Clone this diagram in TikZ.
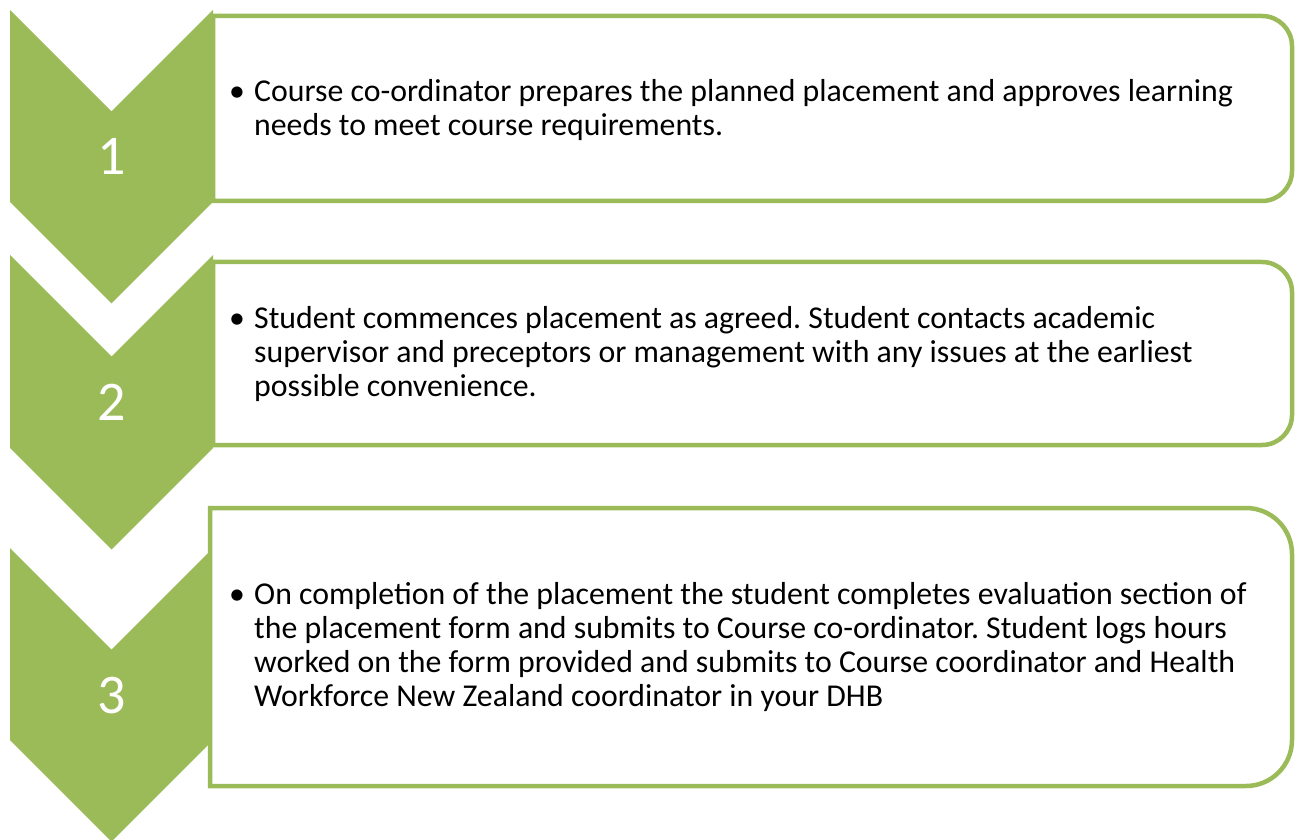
\documentclass[tikz,border=0pt]{standalone}
\usepackage{fontspec}
\setmainfont{Carlito}
\frenchspacing
\definecolor{chevgreen}{HTML}{9BBB59}
\tikzset{
  chevron/.style={fill=chevgreen, draw=none},
  stepbox/.style={draw=chevgreen, line width=4.5pt, fill=white},
  numlabel/.style={text=white, font=\fontsize{56}{60}\selectfont, inner sep=0pt},
  steptext/.style={anchor=west, inner sep=0pt, align=left, font=\fontsize{31.8}{34}\selectfont},
}
\begin{document}
\begin{tikzpicture}[x=1pt,y=1pt]
\useasboundingbox (0,0) rectangle (1295,839);
% chevrons
\path[chevron] (10,829) -- (111.5,727.5) -- (213,829) -- (213,637) -- (111.5,535.5) -- (10,637) -- cycle;
\path[chevron] (10,584) -- (111.5,482.5) -- (213,584) -- (213,391) -- (111.5,289.5) -- (10,391) -- cycle;
\path[chevron] (10,291) -- (111.5,189.5) -- (213,291) -- (213,99) -- (111.5,-2.5) -- (10,99) -- cycle;
% boxes
\draw[stepbox] (213,823) -- (1262,823) arc[start angle=90,end angle=0,radius=30] -- (1292,668) arc[start angle=0,end angle=-90,radius=30] -- (213,638) -- cycle;
\draw[stepbox] (213,577) -- (1262,577) arc[start angle=90,end angle=0,radius=30] -- (1292,424) arc[start angle=0,end angle=-90,radius=30] -- (213,394) -- cycle;
\draw[stepbox] (210,331) -- (1246,331) arc[start angle=90,end angle=0,radius=46] -- (1292,99) arc[start angle=0,end angle=-90,radius=46] -- (210,53) -- cycle;
% numbers
\node[numlabel] (n1) at (111.5,683) {1};
\node[numlabel] (n2) at (111.5,437) {2};
\node[numlabel] (n3) at (111.5,143) {3};
% texts
\node[steptext] (t1) at (229,727) {\begin{tabular}{@{}p{25pt}@{}l@{}}\textbullet & Course co-ordinator prepares the planned placement and approves learning\\ & needs to meet course requirements.\end{tabular}};
\node[steptext] (t2) at (229,483) {\begin{tabular}{@{}p{25pt}@{}l@{}}\textbullet & Student commences placement as agreed. Student contacts academic\\ & supervisor and preceptors or management with any issues at the earliest\\ & possible convenience.\end{tabular}};
\node[steptext] (t3) at (229,190) {\begin{tabular}{@{}p{25pt}@{}l@{}}\textbullet & On completion of the placement the student completes evaluation section of\\ & the placement form and submits to Course co-ordinator. Student logs hours\\ & worked on the form provided and submits to Course coordinator and Health\\ & Workforce New Zealand coordinator in your DHB\end{tabular}};
\end{tikzpicture}
\end{document}
